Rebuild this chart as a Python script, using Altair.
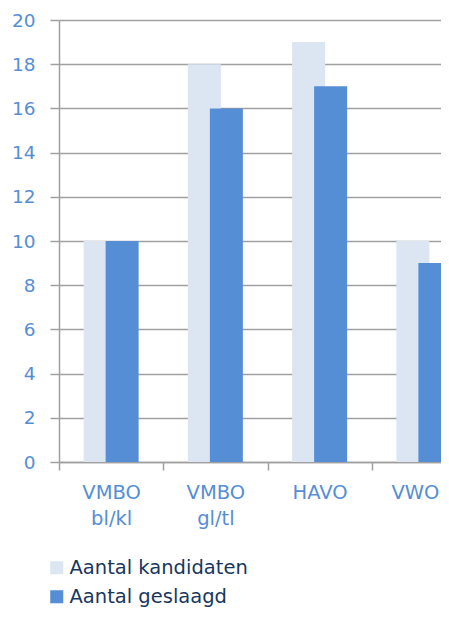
import altair as alt
import pandas as pd

categories = ["VMBO\nbl/kl", "VMBO\ngl/tl", "HAVO", "VWO"]
kandidaten = [10, 18, 19, 10]
geslaagd = [10, 16, 17, 9]
series = ["Aantal kandidaten", "Aantal geslaagd"]
colors = ["#dce6f2", "#558ed5"]
y_ticks = [0, 2, 4, 6, 8, 10, 12, 14, 16, 18, 20]

rows = []
for c, k, g in zip(categories, kandidaten, geslaagd):
    rows.append({"cat": c, "series": series[0], "value": k})
    rows.append({"cat": c, "series": series[1], "value": g})
df = pd.DataFrame(rows)

FONT = "DejaVu Sans"

x_enc = alt.X(
    "cat:N",
    sort=categories,
    scale=alt.Scale(range=[0, 417], paddingInner=0, paddingOuter=0),
    axis=alt.Axis(
        title=None,
        labelAngle=0,
        labelExpr="split(datum.label, '\\n')",
        labelFont=FONT,
        labelFontSize=19.5,
        labelColor="#558ed5",
        labelLineHeight=26,
        labelPadding=13,
        labelOffset={"condition": {"test": "datum.value == 'VWO'", "value": -9}, "value": 0},
        tickBand="extent",
        tickSize=8,
        tickColor="#a0a0a0",
        tickWidth=1.5,
        domainColor="#a0a0a0",
        domainWidth=1.5,
        grid=False,
    ),
)
y_enc = alt.Y(
    "value:Q",
    scale=alt.Scale(domain=[0, 20], nice=False),
    axis=alt.Axis(
        title=None,
        values=y_ticks,
        labelFont=FONT,
        labelFontSize=18.5,
        labelColor="#558ed5",
        labelPadding=15,
        tickSize=9,
        tickColor="#a0a0a0",
        tickWidth=1.5,
        domainColor="#a0a0a0",
        domainWidth=1.5,
        grid=True,
        gridColor="#a0a0a0",
        gridWidth=1.5,
    ),
)
color_enc = alt.Color(
    "series:N",
    scale=alt.Scale(domain=series, range=colors),
    legend=alt.Legend(
        title=None,
        orient="none",
        legendX=-12,
        legendY=538,
        direction="vertical",
        symbolType="square",
        symbolSize=170,
        symbolStrokeWidth=0,
        labelFont=FONT,
        labelFontSize=19.5,
        labelColor="#17375e",
        labelOffset=3,
        labelLimit=400,
        rowPadding=8,
    ),
)

base = alt.Chart(df)
light = base.transform_filter(alt.datum.series == series[0]).mark_bar(
    width=33, xOffset=-11, clip=True
).encode(x=x_enc, y=y_enc, color=color_enc)
dark = base.transform_filter(alt.datum.series == series[1]).mark_bar(
    width=33, xOffset=11, clip=True
).encode(x=x_enc, y=y_enc, color=color_enc)

chart = (
    alt.layer(light, dark)
    .properties(
        width=382,
        height=442,
        autosize=alt.AutoSizeParams(type="none"),
        padding={"left": 51, "top": 12, "right": 0, "bottom": 151},
    )
    .configure_view(stroke=None)
    .configure_axis(labelFontWeight="normal")
)

chart.save("out.html", embed_options={"renderer": "svg", "actions": False})
